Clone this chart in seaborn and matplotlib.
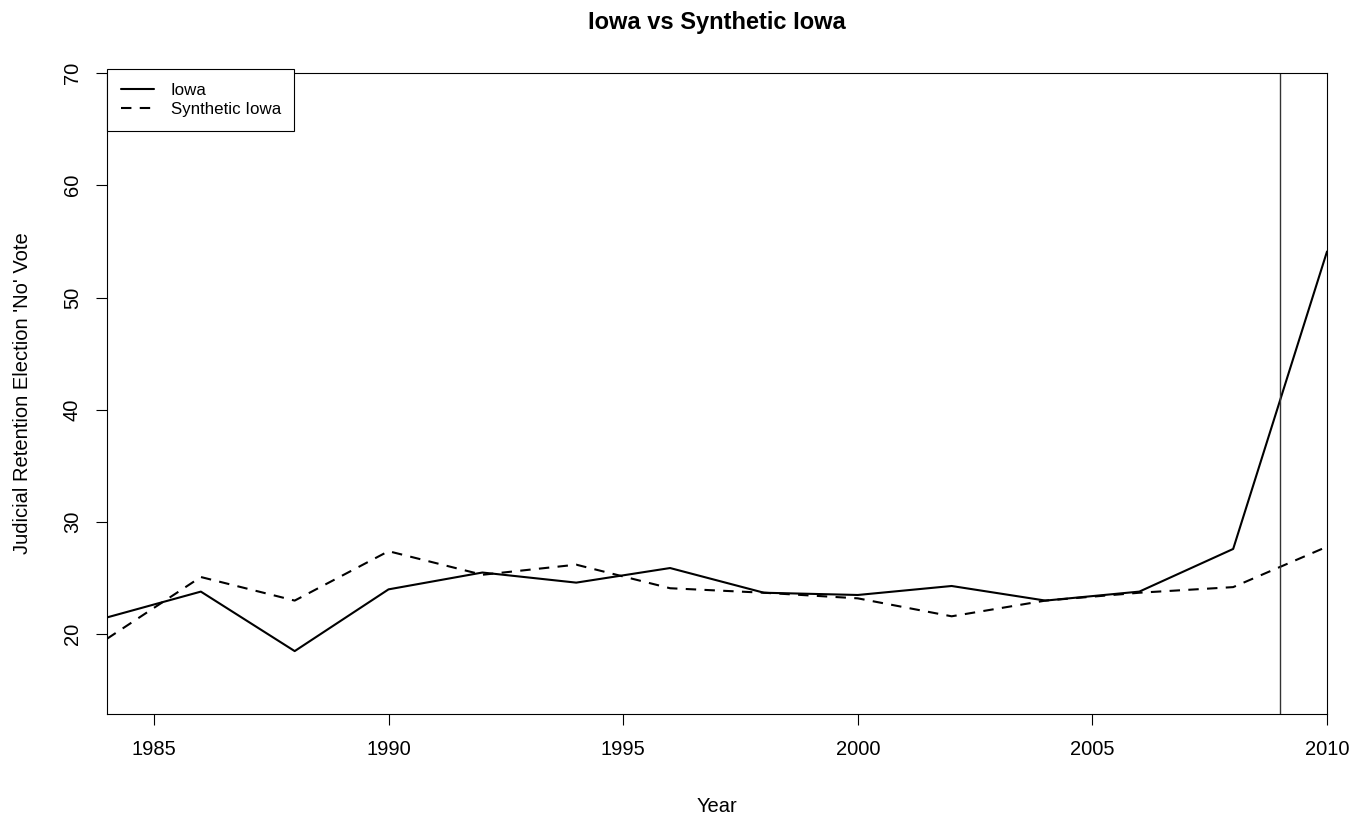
import pandas as pd
import matplotlib
matplotlib.use('Agg')
import matplotlib.pyplot as plt
import seaborn as sns

years = [1984, 1986, 1988, 1990, 1992, 1994, 1996, 1998, 2000, 2002, 2004, 2006, 2008, 2010]
iowa = [21.5, 23.8, 18.5, 24.0, 25.5, 24.6, 25.9, 23.7, 23.5, 24.3, 23.0, 23.8, 27.6, 54.1]
synthetic = [19.6, 25.1, 23.0, 27.4, 25.3, 26.2, 24.1, 23.7, 23.2, 21.6, 23.0, 23.7, 24.2, 27.8]
treatment_year = 2009

df = pd.DataFrame({'year': years, 'Iowa': iowa, 'Synthetic Iowa': synthetic})

sns.set_style('white')
plt.rcParams['font.family'] = ['Liberation Sans', 'DejaVu Sans']
plt.rcParams['text.color'] = 'black'
plt.rcParams['axes.labelcolor'] = 'black'

fig = plt.figure(figsize=(13.63, 8.14), dpi=100)
ax = fig.add_axes([0.0785, 0.1229, 0.8951, 0.7874])

sns.lineplot(data=df, x='year', y='Iowa', ax=ax, color='black', lw=1.5,
             label='Iowa')
sns.lineplot(data=df, x='year', y='Synthetic Iowa', ax=ax, color='black',
             lw=1.5, label='Synthetic Iowa')
ax.lines[1].set_dashes((5, 4))
ax.axvline(treatment_year, color='#333333', lw=1.0)

ax.set_xlim(1984, 2010)
ax.set_ylim(12.9, 70)
ax.set_xticks([1985, 1990, 1995, 2000, 2005, 2010])
ax.set_yticks([20, 30, 40, 50, 60, 70])
ax.tick_params(axis='both', direction='out', length=8, width=0.8,
               labelsize=14.5, colors='black', bottom=True, left=True)
ax.tick_params(axis='x', pad=11)
ax.tick_params(axis='y', pad=10)
for lab in ax.get_yticklabels():
    lab.set_rotation(90)
    lab.set_va('center')
for s in ax.spines.values():
    s.set_color('black')
    s.set_linewidth(0.8)

ax.set_xlabel('Year', fontsize=14.5, labelpad=27)
ax.set_ylabel("Judicial Retention Election 'No' Vote", fontsize=14.5,
              labelpad=22)
ax.set_title('Iowa vs Synthetic Iowa', fontsize=17, fontweight='bold',
             pad=32)

leg = ax.legend(loc='upper left', bbox_to_anchor=(0, 1.006),
                borderaxespad=0, fancybox=False, edgecolor='black',
                fontsize=12.2, handlelength=1.95, handletextpad=1.0,
                labelspacing=0.25, borderpad=0.8, framealpha=1)
leg.get_frame().set_linewidth(0.8)
leg.get_lines()[1].set_dashes((5, 4))

fig.savefig('out.png', dpi=100)
